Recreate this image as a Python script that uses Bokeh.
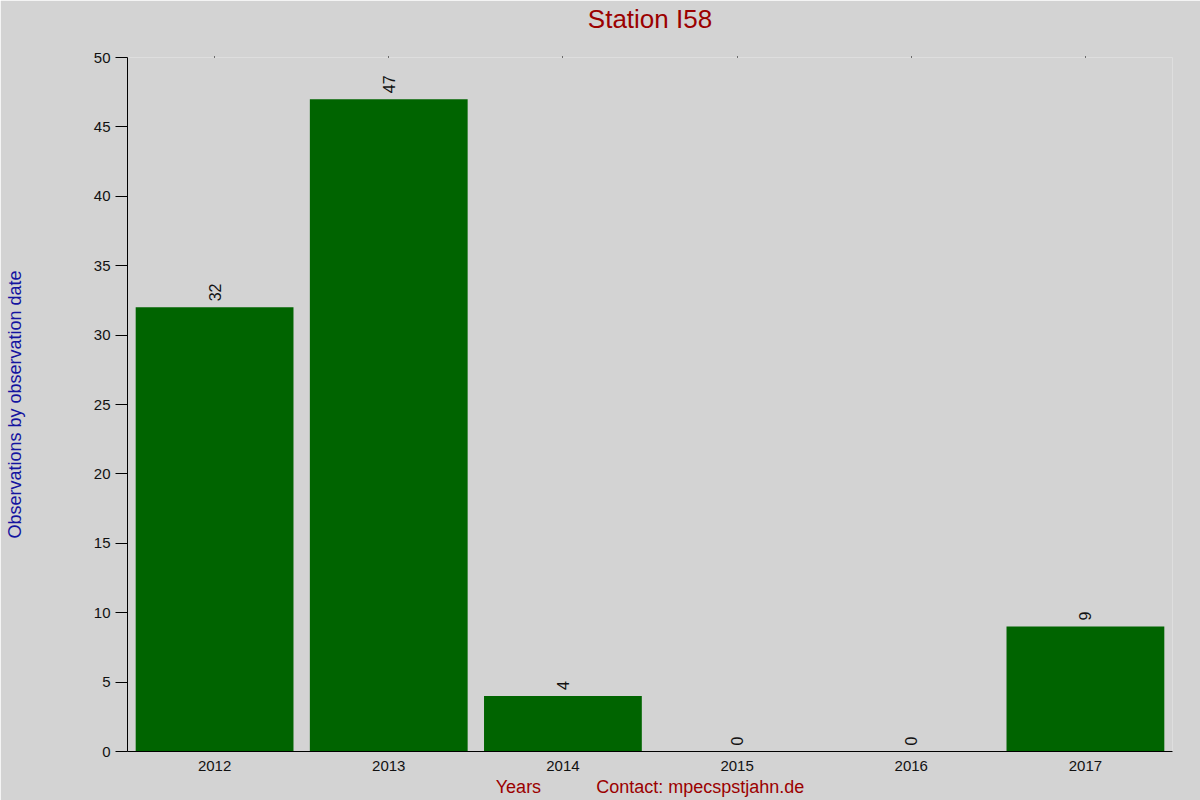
import math
from bokeh.plotting import figure
from bokeh.models import ColumnDataSource, FixedTicker, Range1d, FactorRange, CategoricalAxis
from bokeh.core.properties import value
from bokeh.embed import file_html
from bokeh.resources import INLINE

years = ["2012", "2013", "2014", "2015", "2016", "2017"]
counts = [32, 47, 4, 0, 0, 9]
title_text = "Station I58"
y_label = "Observations by observation date"
x_label = "Years"
contact = "Contact: mpecspstjahn.de"

FONT = "Liberation Sans"
BG = "#d3d3d3"

src = ColumnDataSource(dict(years=years, counts=counts, labels=[str(c) for c in counts]))

p = figure(x_range=FactorRange(*years, range_padding=0), y_range=Range1d(0, 50),
           width=1200, height=800, frame_width=1045, frame_height=694,
           min_border_left=127, min_border_right=28, min_border_top=56, min_border_bottom=50,
           output_backend="svg", toolbar_location=None,
           background_fill_color=BG, border_fill_color=BG, outline_line_color=None)
p.title = None

p.grid.visible = False

p.vbar(x="years", top="counts", width=0.906, source=src, fill_color="#006400", line_color=None)

p.text(x="years", y="counts", text="labels", source=src, angle=math.pi / 2,
       text_align="left", text_baseline="middle", y_offset=-6,
       text_font=value(FONT), text_font_size="16px", text_color="#111111")

# y axis
yax = p.yaxis[0]
yax.ticker = FixedTicker(ticks=[0, 5, 10, 15, 20, 25, 30, 35, 40, 45, 50])
yax.minor_tick_line_color = None
yax.major_tick_out = 12
yax.major_tick_in = 0
yax.major_label_standoff = 5
yax.major_label_text_font = FONT
yax.major_label_text_font_size = "15px"
yax.major_label_text_color = "#111111"
yax.axis_line_color = "black"
yax.axis_label = y_label
yax.axis_label_text_font = FONT
yax.axis_label_text_font_size = "18px"
yax.axis_label_text_font_style = "normal"
yax.axis_label_text_color = "#1414a0"
yax.axis_label_standoff = 66

# x axis
xax = p.xaxis[0]
xax.major_tick_line_color = None
xax.major_label_standoff = 3
xax.major_label_text_font = FONT
xax.major_label_text_font_size = "15px"
xax.major_label_text_color = "#111111"
xax.axis_line_color = "black"
xax.axis_label = x_label + "\u00a0" * 11 + contact
xax.axis_label_text_font = FONT
xax.axis_label_text_font_size = "18px"
xax.axis_label_text_font_style = "normal"
xax.axis_label_text_color = "#9b0000"
xax.axis_label_standoff = 3

# top axis: tiny tick marks, title as its label
top_ax = CategoricalAxis(major_label_text_color=None, major_label_text_font_size="1px",
                         axis_line_color=None, major_label_standoff=0,
                         major_tick_out=1, major_tick_in=0, major_tick_line_color="black",
                         axis_label=title_text, axis_label_text_font=FONT,
                         axis_label_text_font_size="26px", axis_label_text_font_style="normal",
                         axis_label_text_color="#9b0000", axis_label_standoff=23)
p.add_layout(top_ax, "above")

open("out.html", "w").write(file_html(p, INLINE))
